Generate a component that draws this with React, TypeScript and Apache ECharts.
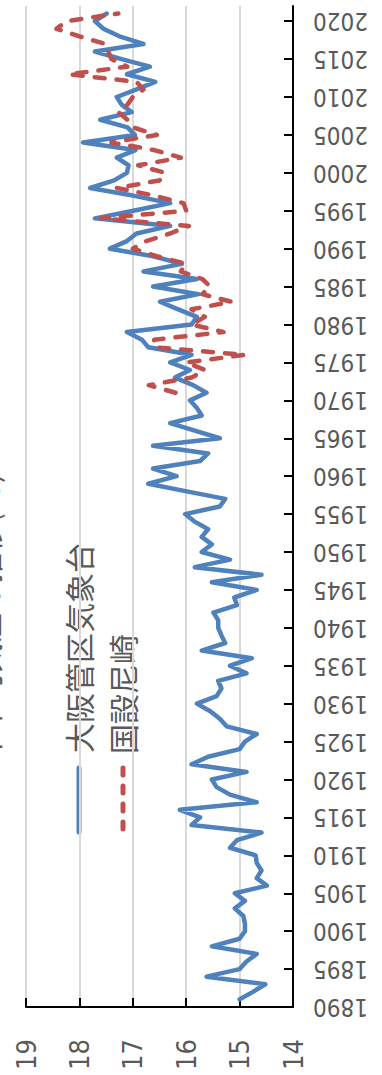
import React, { useEffect, useRef } from "react";
import * as echarts from "echarts";

// ---- data ----
const FIRST_YEAR = 1890;
const LAST_YEAR = 2022;
const years: string[] = [];
for (let y = FIRST_YEAR; y <= LAST_YEAR; y++) years.push(String(y));

const osakaName = "大阪管区気象台";
const osakaStart = 1891;
const osaka: number[] = [
  // 1891-1900
  15.0, 14.75, 14.52, 15.62, 15.0, 14.87, 14.68, 15.52, 15.0, 14.9,
  // 1901-1910
  14.9, 14.93, 15.09, 14.9, 15.09, 14.49, 14.68, 14.59, 14.68, 14.7,
  // 1911-1920
  15.18, 15.05, 14.59, 15.9, 15.74, 16.12, 14.68, 15.18, 15.43, 15.52,
  // 1921-1930
  14.87, 15.9, 15.59, 15.0, 14.9, 14.68, 15.24, 15.37, 15.55, 15.8,
  // 1931-1940
  15.43, 15.34, 15.4, 14.87, 15.18, 14.77, 15.71, 15.27, 15.34, 15.4,
  // 1941-1950
  15.4, 15.49, 15.05, 15.1, 14.68, 15.52, 14.59, 15.84, 15.18, 15.71,
  // 1951-1960
  15.52, 15.71, 15.59, 15.84, 16.02, 15.37, 15.27, 15.99, 16.71, 16.18,
  // 1961-1970
  16.62, 15.74, 15.59, 16.62, 15.37, 15.84, 16.3, 15.71, 15.8, 15.93,
  // 1971-1980
  15.62, 15.87, 16.21, 15.93, 16.3, 15.9, 16.71, 16.83, 17.11, 15.9,
  // 1981-1990
  15.8, 16.15, 16.49, 15.77, 16.62, 15.8, 16.8, 16.08, 16.62, 17.43,
  // 1991-2000
  17.11, 16.93, 16.3, 17.71, 16.99, 16.3, 17.0, 17.8, 17.35, 17.11,
  // 2001-2010
  17.08, 17.3, 16.95, 17.93, 16.96, 17.1, 17.61, 17.02, 17.21, 17.3,
  // 2011-2021
  16.93, 16.58, 17.11, 16.68, 17.21, 17.71, 16.8, 17.25, 17.55, 17.71, 17.49,
];

const amaName = "国設尼崎";
const amaStart = 1971;
const amagasaki: number[] = [
  // 1971-1980
  16.2, 16.7, 15.9, 15.65, 16.0, 14.9, 16.6, 16.6, 15.3, 15.9,
  // 1981-1990
  15.65, 15.9, 15.15, 15.7, 15.55, 15.7, 16.1, 16.0, 16.55, 17.0,
  // 1991-2000
  16.75, 16.3, 15.95, 17.6, 16.0, 16.05, 16.6, 17.3, 16.5, 16.4,
  // 2001-2010
  16.9, 16.1, 16.6, 17.4, 16.55, 17.0, 17.1, 17.27, 17.1, 17.0,
  // 2011-2021
  16.8, 16.93, 18.2, 17.1, 17.4, 17.46, 17.52, 18.0, 18.43, 18.24, 17.27,
];

const titleText = "年平均気温の推移(℃)";
const valueMin = 14;
const valueMax = 19;
const valueStep = 1;
const labelEvery = 5;

const BLUE = "#4F81BD";
const RED = "#C0504D";
const TEXT = "#595959";
const NUM_FONT = "'DejaVu Sans Condensed', 'DejaVu Sans', sans-serif";
const CJK_FONT = "'Noto Sans CJK JP', 'Noto Sans', sans-serif";

function seriesData(start: number, vals: number[]) {
  return years.map((y) => {
    const i = Number(y) - start;
    return i >= 0 && i < vals.length ? vals[i] : null;
  });
}

export default function App() {
  const ref = useRef<HTMLDivElement>(null);
  useEffect(() => {
    if (!ref.current) return;
    const chart = echarts.init(ref.current, undefined, { renderer: "svg" });
    const showIdx = (_i: number, v: string) => Number(v) % labelEvery === 0;
    chart.setOption({
      animation: false,
      backgroundColor: "#ffffff",
      grid: { left: 26, right: 89, top: 6, bottom: 68, containLabel: false },
      xAxis: {
        type: "value",
        min: valueMin,
        max: valueMax,
        interval: valueStep,
        inverse: true,
        position: "bottom",
        axisLine: { show: true, onZero: false, lineStyle: { color: "#000", width: 2 } },
        axisTick: { show: true, inside: true, length: 9, lineStyle: { color: "#000", width: 2 } },
        splitLine: { show: true, lineStyle: { color: "#D9D9D9", width: 2 } },
        axisLabel: {
          rotate: 90,
          margin: 32,
          color: TEXT,
          fontSize: 27,
          fontFamily: NUM_FONT,
        },
      },
      yAxis: {
        type: "category",
        data: years,
        boundaryGap: false,
        position: "right",
        axisLine: { show: true, onZero: false, lineStyle: { color: "#000", width: 2 } },
        axisTick: {
          show: true,
          inside: true,
          length: 9,
          interval: showIdx,
          lineStyle: { color: "#000", width: 2 },
        },
        splitLine: { show: false },
        axisLabel: {
          interval: showIdx,
          rotate: 180,
          margin: 20,
          color: TEXT,
          fontSize: 24,
          fontFamily: NUM_FONT,
        },
      },
      series: [
        {
          name: osakaName,
          type: "line",
          data: seriesData(osakaStart, osaka),
          showSymbol: false,
          symbol: "none",
          connectNulls: false,
          lineStyle: { color: BLUE, width: 4.5, cap: "round", join: "round" },
          itemStyle: { color: BLUE },
          z: 2,
        },
        {
          name: amaName,
          type: "line",
          data: seriesData(amaStart, amagasaki),
          showSymbol: false,
          symbol: "none",
          connectNulls: false,
          lineStyle: {
            color: RED,
            width: 4.5,
            type: [10, 12],
            cap: "round",
            join: "round",
          },
          itemStyle: { color: RED },
          z: 3,
        },
      ],
      graphic: [
        {
          type: "text",
          x: -14,
          y: 618,
          rotation: Math.PI / 2,
          silent: true,
          style: {
            text: titleText,
            fill: TEXT,
            fontSize: 30,
            fontFamily: CJK_FONT,
            align: "center",
            verticalAlign: "middle",
          },
        },
        {
          type: "line",
          silent: true,
          shape: { x1: 79, y1: 768, x2: 79, y2: 832 },
          style: { stroke: BLUE, lineWidth: 5, lineCap: "round" },
        },
        {
          type: "text",
          x: 78,
          y: 648,
          rotation: Math.PI / 2,
          silent: true,
          style: {
            text: osakaName,
            fill: TEXT,
            fontSize: 30,
            fontFamily: CJK_FONT,
            align: "center",
            verticalAlign: "middle",
          },
        },
        {
          type: "line",
          silent: true,
          shape: { x1: 123, y1: 768, x2: 123, y2: 832 },
          style: { stroke: RED, lineWidth: 5, lineCap: "round", lineDash: [7, 11] },
        },
        {
          type: "text",
          x: 122,
          y: 694,
          rotation: Math.PI / 2,
          silent: true,
          style: {
            text: amaName,
            fill: TEXT,
            fontSize: 30,
            fontFamily: CJK_FONT,
            align: "center",
            verticalAlign: "middle",
          },
        },
      ],
    });
    return () => chart.dispose();
  }, []);
  return (
    <div
      ref={ref}
      style={{ position: "fixed", left: 0, top: 0, width: 382, height: 1075, background: "#fff" }}
    />
  );
}
